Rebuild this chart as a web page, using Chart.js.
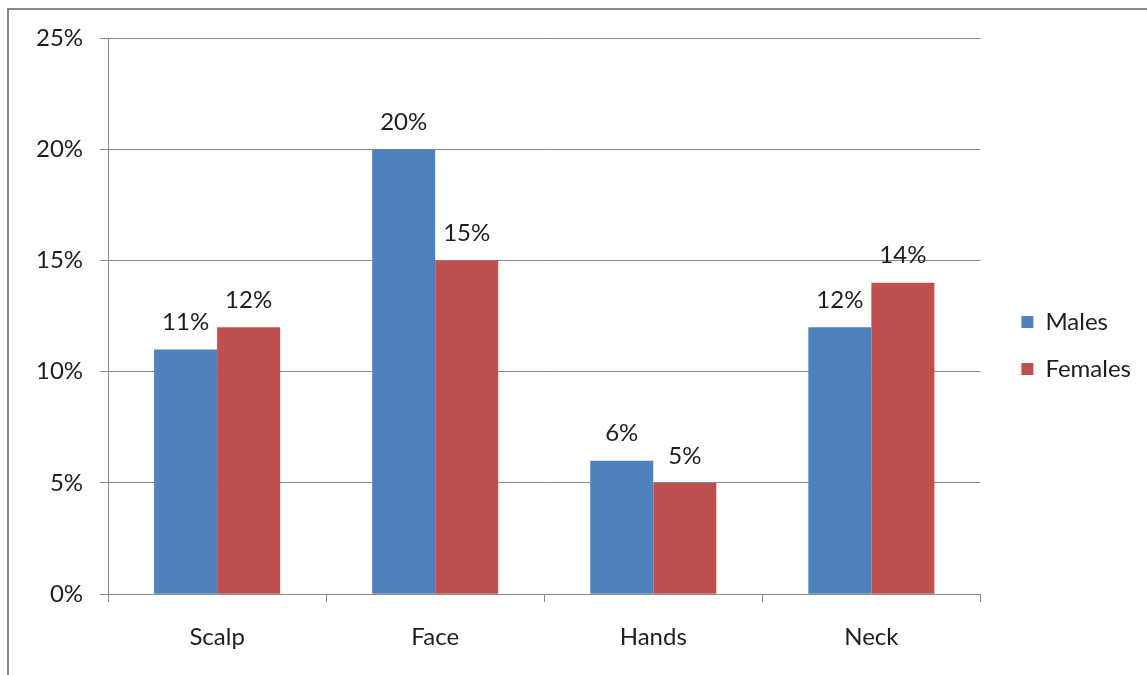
<!DOCTYPE html>
<html>
<head>
<meta charset="utf-8">
<script src="https://cdn.jsdelivr.net/npm/chart.js@4"></script>
<style>
  html, body { margin: 0; padding: 0; background: #fff; }
  #wrap { position: relative; width: 1147px; height: 675px; overflow: hidden; }
  #frame { position: absolute; left: 7px; top: 8px; width: 1200px; height: 700px;
           border-left: 2px solid #8a8a8a; border-top: 2px solid #8a8a8a; }
  #box { position: absolute; left: 0; top: 0; width: 1147px; height: 675px; }
</style>
</head>
<body>
<div id="wrap">
  <div id="frame"></div>
  <div id="box"><canvas id="chart"></canvas></div>
</div>
<script>
const categories = ['Scalp', 'Face', 'Hands', 'Neck'];
const males = [0.11, 0.20, 0.06, 0.12];
const females = [0.12, 0.15, 0.05, 0.14];
const yTicks = [0, 0.05, 0.10, 0.15, 0.20, 0.25];

const fontFamily = 'Lato, "Open Sans", sans-serif';
const fontSize = 24;
const textColor = '#1e1e1e';
const lineColor = '#8a8a8a';

function pct(v) {
    return Math.round(v * 100) + '%';
}

// draws the value above each bar
const barLabels = {
    id: 'barLabels',
    afterDatasetsDraw(chart) {
        const ctx = chart.ctx;
        ctx.save();
        ctx.font = fontSize + 'px ' + fontFamily;
        ctx.fillStyle = textColor;
        ctx.textAlign = 'center';
        ctx.textBaseline = 'middle';
        chart.data.datasets.forEach((ds, i) => {
            chart.getDatasetMeta(i).data.forEach((bar, j) => {
                ctx.fillText(pct(ds.data[j]), bar.x, bar.y - 27);
            });
        });
        ctx.restore();
    }
};

// nudge the legend a bit right and up, away from the plot
const legendShift = {
    id: 'legendShift',
    afterLayout(chart) {
        const lg = chart.legend;
        lg.left += 18;
        lg.right += 18;
        lg.top -= 10;
        lg.bottom -= 10;
    }
};

new Chart(document.getElementById('chart'), {
    type: 'bar',
    data: {
        labels: categories,
        datasets: [
            { label: 'Males', data: males, backgroundColor: '#4f81bd' },
            { label: 'Females', data: females, backgroundColor: '#c0504d' }
        ]
    },
    options: {
        responsive: true,
        maintainAspectRatio: false,
        animation: false,
        layout: { padding: { left: 19, top: 38, right: 24, bottom: 2 } },
        datasets: {
            bar: { barPercentage: 1, categoryPercentage: 0.578 }
        },
        scales: {
            x: {
                grid: { drawOnChartArea: false, drawTicks: true, tickLength: 8, color: lineColor, offset: true },
                border: { color: lineColor },
                ticks: { color: textColor, font: { family: fontFamily, size: fontSize }, padding: 21 }
            },
            y: {
                min: 0,
                max: 0.25,
                afterBuildTicks(axis) {
                    axis.ticks = yTicks.map(v => ({ value: v }));
                },
                grid: { color: lineColor, tickLength: 8 },
                border: { color: lineColor },
                ticks: {
                    color: textColor,
                    font: { family: fontFamily, size: fontSize },
                    padding: 17,
                    callback: v => pct(v)
                }
            }
        },
        plugins: {
            legend: {
                position: 'right',
                labels: {
                    color: textColor,
                    font: { family: fontFamily, size: fontSize },
                    boxWidth: 12,
                    boxHeight: 12,
                    padding: 23
                }
            },
            tooltip: { enabled: false }
        }
    },
    plugins: [barLabels, legendShift]
});
</script>
</body>
</html>
